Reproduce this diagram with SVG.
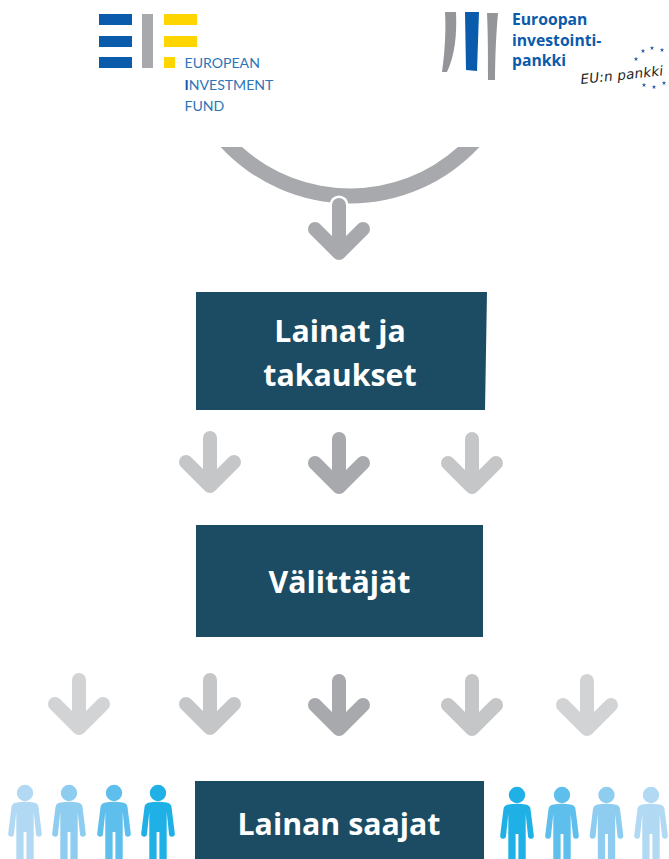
<svg xmlns="http://www.w3.org/2000/svg" xmlns:xlink="http://www.w3.org/1999/xlink" width="669" height="859" viewBox="0 0 669 859">
<style>
.box{fill:#1b4c63}
.lbl{font-family:"Open Sans","Liberation Sans",sans-serif;font-weight:700;font-size:30.300px;fill:#fff;text-anchor:middle}
.a{fill:none;stroke-width:14;stroke-linecap:round;stroke-linejoin:round}
.m{stroke:#a7a9ac}.l{stroke:#c5c6c8}.x{stroke:#d1d3d4}
.eif{font-family:Lato,"Liberation Sans",sans-serif;font-size:14.1px;fill:#2e75b6}
.eib{font-family:"Open Sans","Liberation Sans",sans-serif;font-weight:700;font-size:15.7px;fill:#0a5bab}
.p1{fill:#b2d9f4}.p2{fill:#8fcdf0}.p3{fill:#5fbfec}.p4{fill:#1fb1e6}
.star{fill:#2d5fa8}
</style>
<defs>
<path id="arrow" d="M0 7V54M-24 31L0 55L24 31"/>
<path id="person" d="M0-8.200A8.200 8.200 0 1 1 0 8.200A8.200 8.200 0 1 1 0-8.200ZM-8.500 9.500Q0 8 8.500 9.500Q13 10 13.500 14L16.800 40.500A2.900 2.900 0 0 1 11 41L8.700 19V66H1.400V39H-1.400V66H-8.700V19L-11 41A2.900 2.900 0 0 1-16.800 40.500L-13.500 14Q-13 10-8.500 9.500Z"/>
<polygon id="s" points="0,-2.200 .6,-.7 2.200,-.7 .9,.3 1.400,1.900 0,.9 -1.400,1.900 -.9,.3 -2.200,-.7 -.6,-.7"/>
</defs>
<rect width="669" height="859" fill="#fff"/>

<g id="logo-eif">
<path fill="#0a5bab" d="M99 14h33v11H99zM99 36h33v11H99zM99 57h33v11H99z"/>
<rect x="142" y="14" width="11" height="54" fill="#a7a9ac"/>
<path fill="#ffd500" d="M164 14h33v11h-33zM164 36h33v11h-33zM164 57h11v11h-11z"/>
<text class="eif" x="184.500" y="68">EUROPEAN</text>
<text class="eif" x="184.500" y="90"><tspan fill="#0a5bab" font-weight="700">I</tspan>NVESTMENT</text>
<text class="eif" x="184.500" y="111">FUND</text>
</g>

<g id="logo-eib">
<path fill="#949598" d="M445 12H456C457 35 455 55 447 72H442C445 50 446 30 445 12Z"/>
<path fill="#0a5bab" d="M465 12H479L477 71L466 70Z"/>
<path fill="#949598" d="M487 13H498C496 35 495 60 495 80H488C488 55 488 35 487 13Z"/>
<text class="eib" x="512" y="25">Euroopan</text>
<text class="eib" x="512" y="45.500">investointi-</text>
<text class="eib" x="512" y="66">pankki</text>
<text x="581" y="84" transform="rotate(-6 581 84)" font-family="'DejaVu Sans',sans-serif" font-style="italic" font-size="13.500" fill="#222" textLength="83">EU:n pankki</text>
<g class="star">
<use href="#s" x="643" y="51"/><use href="#s" x="652" y="48"/><use href="#s" x="662" y="50"/><use href="#s" x="636" y="59"/>
<use href="#s" x="664" y="83"/><use href="#s" x="644" y="85"/><use href="#s" x="654" y="87"/>
</g>
</g>

<path id="arc" fill="#a7a9ac" d="M220.600 147A176.500 176.500 0 0 0 479.400 147H458A161.500 161.500 0 0 1 242 147Z"/>

<g id="connectors">
<g transform="translate(339 198)">
<path d="M0 7V30" fill="none" stroke="#fff" stroke-width="19" stroke-linecap="round"/>
<use href="#arrow" class="a m"/>
</g>
<use href="#arrow" class="a l" x="210" y="431"/>
<use href="#arrow" class="a m" x="339" y="432"/>
<use href="#arrow" class="a l" x="472" y="432"/>
<use href="#arrow" class="a x" x="79" y="673"/>
<use href="#arrow" class="a l" x="210" y="673"/>
<use href="#arrow" class="a m" x="339" y="674"/>
<use href="#arrow" class="a l" x="472" y="674"/>
<use href="#arrow" class="a x" x="587" y="674"/>
</g>

<g id="node-lainat">
<polygon class="box" points="196,292 487,292 485,410 196,410"/>
<text class="lbl" x="340" y="342">Lainat ja</text>
<text class="lbl" x="340" y="386">takaukset</text>
</g>
<g id="node-valittajat">
<rect class="box" x="196" y="525" width="287" height="112"/>
<text class="lbl" x="339.500" y="593">Välittäjät</text>
</g>
<g id="node-saajat">
<rect class="box" x="195" y="781" width="289" height="78"/>
<text class="lbl" x="339" y="835">Lainan saajat</text>
</g>

<g id="people-left">
<use href="#person" class="p1" x="25" y="793"/>
<use href="#person" class="p2" x="69" y="793"/>
<use href="#person" class="p3" x="114" y="793"/>
<use href="#person" class="p4" x="158" y="793"/>
</g>
<g id="people-right">
<use href="#person" class="p4" x="517" y="795"/>
<use href="#person" class="p3" x="562" y="795"/>
<use href="#person" class="p2" x="606.500" y="795"/>
<use href="#person" class="p1" x="651" y="795"/>
</g>
</svg>
